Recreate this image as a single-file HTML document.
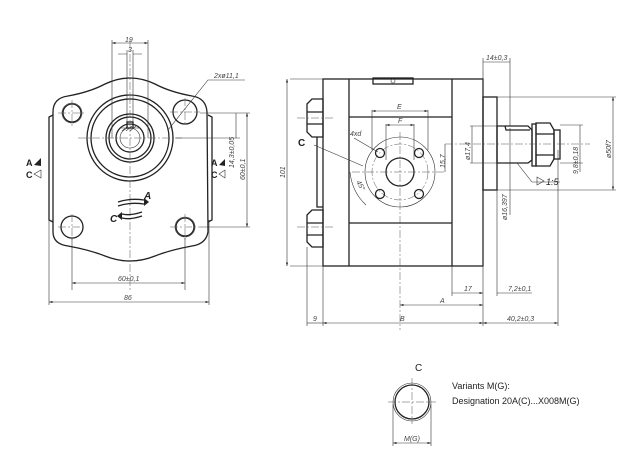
<!DOCTYPE html>
<html><head><meta charset="utf-8"><style>
html,body{margin:0;padding:0;background:#fff;width:640px;height:459px;overflow:hidden}
svg{display:block}
text{font-family:"Liberation Sans",sans-serif;fill:#222}
.t{stroke:#222;stroke-width:1.3;fill:none}
.n{stroke:#333;stroke-width:0.6;fill:none}
.c{stroke:#555;stroke-width:0.5;fill:none;stroke-dasharray:8 2 2 2}
.d{font-size:7px;font-style:italic;fill:#444}
</style></head><body>
<svg width="640" height="459" viewBox="0 0 640 459" xmlns="http://www.w3.org/2000/svg">
<defs><marker id="a" markerWidth="6" markerHeight="4" refX="6" refY="2" orient="auto-start-reverse"><path d="M0,0L6,2L0,4z" fill="#333"/></marker></defs>

<!-- FRONT VIEW -->
<path class="t" d="M68,96 Q90,92 105,84 Q130,72 155,84 Q170,92 192,96 Q206,98 207,112 L208,232 Q206,244 192,246 Q170,250 155,256 Q130,266 105,256 Q90,250 68,246 Q53,244 53,232 L53,112 Q53,98 68,96Z"/>
<path class="t" d="M53,115 L49,117 L49,220 L53,222 M208,115 L212,117 L212,220 L208,222"/>
<circle class="t" cx="130" cy="138" r="43"/>
<circle class="t" cx="130" cy="138" r="39"/>
<circle class="t" cx="130" cy="138" r="24"/>
<circle class="t" cx="130" cy="138" r="21"/>
<circle class="t" cx="130" cy="138" r="14"/>
<circle class="n" cx="130" cy="138" r="10"/>
<rect class="t" x="127" y="122" width="6" height="6"/>
<path class="n" d="M121,128 L139,128 M122,131 L128,126 M126,131 L132,126 M130,131 L136,126"/>
<circle class="t" cx="72" cy="113" r="9"/><circle class="n" cx="72" cy="113" r="10"/>
<circle class="t" cx="185" cy="112" r="12"/>
<circle class="t" cx="72" cy="227" r="11"/>
<circle class="t" cx="185" cy="227" r="9"/><circle class="n" cx="185" cy="227" r="10"/>
<path class="c" d="M130,40 L130,290 M78,138 L182,138 M58,113 L86,113 M170,112 L200,112 M58,227 L86,227 M170,227 L200,227 M72,100 L72,126 M185,98 L185,126 M72,214 L72,240 M185,214 L185,240"/>
<!-- rotation arrows -->
<path class="t" d="M118,202 Q130,198 144,200 M118,206 Q130,202 144,204"/><path d="M144,198 L149,202 L144,206z" fill="#222"/>
<path class="t" d="M142,212 Q130,216 122,214 M142,216 Q130,220 122,218"/><path d="M122,212 L117,216 L122,220z" fill="#222"/>
<text x="144" y="199" font-size="10" font-weight="bold" font-style="italic">A</text>
<text x="110" y="222" font-size="10" font-weight="bold" font-style="italic">C</text>
<!-- A/C side labels -->
<text x="26" y="166" font-size="9" font-weight="bold">A</text><path d="M34,165 L41,158 L41,166z" fill="#222"/>
<text x="26" y="178" font-size="9" font-weight="bold">C</text><path class="n" d="M34,174 L41,170 L41,178z"/>
<text x="211" y="166" font-size="9" font-weight="bold">A</text><path d="M219,165 L225,159 L225,166z" fill="#222"/>
<text x="211" y="178" font-size="9" font-weight="bold">C</text><path class="n" d="M219,174 L225,170 L225,178z"/>
<!-- dims front -->
<path class="n" d="M112,40 L112,138 M148,40 L148,138 M127,50 L127,122 M133,50 L133,122"/>
<line class="n" x1="112" y1="43" x2="148" y2="43" marker-start="url(#a)" marker-end="url(#a)"/>
<text class="d" x="125" y="42">19</text>
<path class="n" d="M118,54 L127,54 M133,54 L142,54"/><text class="d" x="128" y="52">3</text>
<path class="n" d="M168,130 L208,80 L245,80"/><text class="d" x="214" y="78">2xø11,1</text>
<path class="n" d="M200,113 L250,113 M200,227 L250,227 M175,138 L240,138"/>
<line class="n" x1="247" y1="113" x2="247" y2="227" marker-start="url(#a)" marker-end="url(#a)"/>
<line class="n" x1="236" y1="113" x2="236" y2="138"/>
<text class="d" transform="translate(245,180) rotate(-90)">60±0,1</text>
<text class="d" transform="translate(234,168) rotate(-90)">14,3±0,05</text>
<path class="n" d="M72,238 L72,290 M185,238 L185,290 M49,220 L49,305 M209,220 L209,305"/>
<line class="n" x1="72" y1="283" x2="185" y2="283" marker-start="url(#a)" marker-end="url(#a)"/>
<text class="d" x="118" y="281">60±0,1</text>
<line class="n" x1="49" y1="302" x2="209" y2="302" marker-start="url(#a)" marker-end="url(#a)"/>
<text class="d" x="124" y="300">86</text>

<!-- SIDE VIEW -->
<rect class="t" x="323" y="79" width="160" height="187"/>
<path class="t" d="M349,79 L349,266 M452,79 L452,266 M349,117 L452,117 M349,223 L452,223"/>
<rect class="t" x="373" y="78" width="40" height="6" fill="#fff"/><circle class="n" cx="393" cy="81" r="2"/>
<rect class="t" x="483" y="97" width="14" height="93"/>
<path class="t" d="M497,126 L528,126 L532,130 L532,160 L528,163 L497,163 Z M505,126 L506,130 L530,130"/>
<rect class="t" x="532" y="124" width="4" height="42"/>
<path class="t" d="M536,123 L550,123 L554,130 L554,159 L550,166 L536,166 Z M536,134 L554,134 M536,155 L554,155"/>
<rect class="t" x="554" y="130" width="6" height="29"/>
<path class="t" d="M307,104 L312,99 L323,99 L323,137 L312,137 L307,132 Z M307,112 L323,112 M307,124 L323,124"/>
<path class="t" d="M307,215 L312,210 L323,210 L323,247 L312,247 L307,242 Z M307,223 L323,223 M307,235 L323,235"/>
<path class="t" d="M317,137 L317,207 L323,207"/>
<circle class="n" cx="400" cy="172" r="35"/>
<circle class="c" cx="400" cy="172" r="28"/>
<circle class="t" cx="400" cy="172" r="14"/>
<circle class="t" cx="380" cy="153" r="4.5"/><circle class="t" cx="419" cy="153" r="4.5"/>
<circle class="t" cx="380" cy="194" r="4.5"/><circle class="t" cx="419" cy="194" r="4.5"/>
<path class="c" d="M400,132 L400,330 M352,172 L445,172 M445,144 L590,144 M297,118 L335,118 M297,227 L335,227"/>
<path class="n" d="M372,110 L372,150 M428,110 L428,150 M386,124 L386,160 M414,124 L414,160"/>
<line class="n" x1="372" y1="111" x2="428" y2="111" marker-start="url(#a)" marker-end="url(#a)"/><text class="d" x="397" y="109">E</text>
<line class="n" x1="386" y1="125" x2="414" y2="125" marker-start="url(#a)" marker-end="url(#a)"/><text class="d" x="398" y="123">F</text>
<text class="d" x="350" y="136">4xd</text><path class="n" d="M354,138 L378,152"/>
<path class="n" d="M314,145 L363,166"/><text x="298" y="146" font-size="10" font-weight="bold">C</text>
<path class="n" d="M350,172 Q352,192 366,205"/><text class="d" transform="translate(356,182) rotate(60)">45°</text>
<path class="n" d="M445,144 L445,172"/><text class="d" transform="translate(445,168) rotate(-90)">15,7</text>
<path class="n" d="M470,126 L505,126 M470,163 L505,163"/>
<line class="n" x1="472" y1="126" x2="472" y2="163"/><text class="d" transform="translate(470,160) rotate(-90)">ø17,4</text>
<line class="n" x1="510" y1="128" x2="510" y2="215"/><text class="d" transform="translate(507,220) rotate(-90)">ø16,397</text>
<path class="n" d="M560,125 L583,125 M560,163 L583,163"/>
<line class="n" x1="580" y1="125" x2="580" y2="172"/><text class="d" transform="translate(578,174) rotate(-90)">9,8±0,18</text>
<path class="n" d="M497,97 L616,97 M497,190 L616,190"/>
<line class="n" x1="613" y1="97" x2="613" y2="190" marker-start="url(#a)" marker-end="url(#a)"/><text class="d" transform="translate(611,158) rotate(-90)">ø50f7</text>
<path class="n" d="M517,163 L532,182 L560,182"/><path class="n" d="M537,177 L544,181 L537,185z"/><text x="546" y="185" font-size="9" font-style="italic" fill="#444">1:5</text>
<path class="n" d="M483,58 L483,97 M510,58 L510,126"/>
<line class="n" x1="483" y1="62" x2="510" y2="62"/><text class="d" x="486" y="60">14±0,3</text>
<path class="n" d="M290,79 L323,79 M290,266 L323,266"/>
<line class="n" x1="287" y1="79" x2="287" y2="266" marker-start="url(#a)" marker-end="url(#a)"/><text class="d" transform="translate(285,178) rotate(-90)">101</text>
<path class="n" d="M307,247 L307,326 M323,266 L323,326 M483,190 L483,326 M452,266 L452,296 M497,190 L497,296 M558,150 L558,326"/>
<line class="n" x1="452" y1="293" x2="483" y2="293" marker-end="url(#a)"/><text class="d" x="464" y="291">17</text>
<line class="n" x1="497" y1="293" x2="532" y2="293"/><text class="d" x="508" y="291">7,2±0,1</text>
<line class="n" x1="400" y1="305" x2="483" y2="305" marker-start="url(#a)" marker-end="url(#a)"/><text class="d" x="440" y="303">A</text>
<line class="n" x1="307" y1="323" x2="323" y2="323"/><text class="d" x="313" y="321">9</text>
<line class="n" x1="323" y1="323" x2="483" y2="323" marker-start="url(#a)" marker-end="url(#a)"/><text class="d" x="400" y="321">B</text>
<line class="n" x1="483" y1="323" x2="558" y2="323" marker-start="url(#a)" marker-end="url(#a)"/><text class="d" x="507" y="321">40,2±0,3</text>

<!-- DETAIL C -->
<text x="415" y="371" font-size="10">C</text>
<circle class="t" cx="412" cy="402" r="17"/><circle class="n" cx="412" cy="402" r="19" stroke="#999"/>
<path class="c" d="M412,378 L412,424 M388,402 L436,402"/>
<path class="n" d="M393,404 L393,446 M431,404 L431,446"/>
<line class="n" x1="393" y1="443" x2="431" y2="443" marker-start="url(#a)" marker-end="url(#a)"/><text class="d" x="404" y="441">M(G)</text>
<text x="452" y="389" font-size="9" fill="#555">Variants M(G):</text>
<text x="452" y="404" font-size="9" fill="#555">Designation 20A(C)...X008M(G)</text>
</svg>
</body></html>
